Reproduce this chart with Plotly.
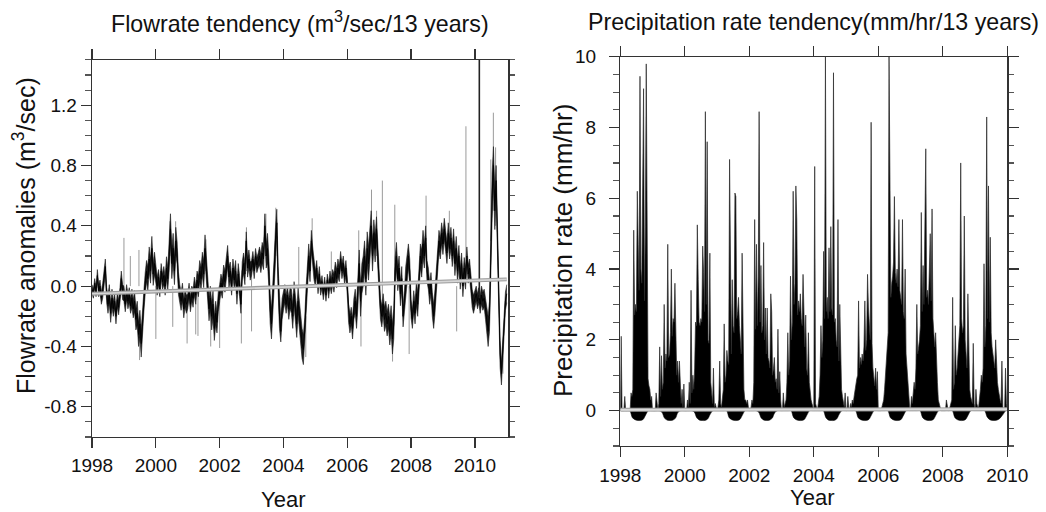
import plotly.graph_objects as go

# ---------------- Left panel: flow-rate anomalies (half-monthly samples) ----------------
flow_years = [1998, 1999, 2000, 2001, 2002, 2003, 2004, 2005, 2006, 2007, 2008, 2009, 2010]
flow_1998 = [-0.02, -0.05, 0.02, -0.04, 0.07, -0.03, 0.0, -0.08, -0.03, 0.05, 0.13, -0.06,
             -0.12, -0.05, -0.18, -0.08, -0.15, -0.1, -0.2, -0.09, -0.14, -0.06, 0.05, -0.04]
flow_1999 = [-0.05, -0.12, -0.04, -0.1, -0.06, -0.13, -0.08, -0.15, -0.1, -0.22, -0.18, -0.32,
             -0.25, -0.38, -0.2, -0.1, 0.02, 0.1, 0.05, 0.18, 0.1, 0.25, 0.08, 0.15]
flow_2000 = [0.08, 0.0, 0.06, -0.02, 0.1, 0.03, 0.07, 0.0, 0.12, 0.05, 0.2, 0.38,
             0.15, 0.25, 0.1, 0.3, 0.22, 0.02, -0.05, -0.1, -0.04, -0.15, -0.08, -0.12]
flow_2001 = [-0.1, -0.03, -0.12, -0.05, -0.08, 0.0, -0.06, 0.04, 0.0, 0.1, 0.05, 0.15,
             0.08, 0.25, 0.12, -0.05, -0.15, -0.08, -0.2, -0.12, -0.28, -0.18, -0.24, -0.1]
flow_2002 = [-0.05, 0.02, -0.02, 0.08, 0.03, 0.12, 0.2, 0.06, 0.1, 0.0, 0.12, 0.04,
             0.1, -0.05, 0.08, 0.0, -0.12, 0.1, 0.15, 0.08, 0.3, 0.12, 0.18, 0.1]
flow_2003 = [0.12, 0.18, 0.1, 0.2, 0.14, 0.17, 0.2, 0.15, 0.22, 0.18, 0.4, 0.2,
             0.25, 0.1, -0.15, -0.25, -0.1, 0.1, 0.3, 0.42, 0.05, -0.2, -0.3, -0.15]
flow_2004 = [-0.1, -0.05, -0.12, -0.06, -0.15, -0.08, -0.1, -0.2, -0.05, -0.15, -0.25, -0.1,
             -0.2, -0.3, -0.38, -0.42, -0.3, -0.1, 0.05, 0.2, 0.1, 0.3, 0.2, 0.1]
flow_2005 = [0.05, 0.12, 0.0, 0.08, -0.02, 0.03, -0.05, 0.02, -0.06, 0.04, -0.03, 0.05,
             0.0, 0.06, 0.02, 0.1, 0.05, 0.12, 0.08, 0.18, 0.1, 0.15, 0.06, 0.12]
flow_2006 = [0.0, -0.18, -0.25, -0.2, -0.28, -0.15, -0.1, -0.2, -0.05, 0.15, -0.1, 0.05,
             0.1, 0.2, 0.05, 0.25, 0.15, 0.3, 0.4, 0.2, 0.35, 0.25, 0.38, 0.2]
flow_2007 = [0.0, -0.15, -0.2, -0.12, -0.22, -0.18, -0.25, -0.2, -0.3, -0.22, -0.35, -0.25,
             0.1, 0.2, 0.05, 0.12, -0.05, 0.05, -0.2, -0.1, 0.05, 0.15, 0.2, 0.1]
flow_2008 = [-0.15, -0.22, -0.1, -0.18, -0.05, -0.12, 0.1, 0.2, 0.15, 0.28, 0.2, 0.32,
             0.1, 0.05, -0.05, 0.02, -0.12, -0.2, -0.1, 0.05, 0.2, 0.3, 0.25, 0.35]
flow_2009 = [0.28, 0.38, 0.3, 0.22, 0.35, 0.25, 0.32, 0.2, 0.3, 0.15, 0.25, 0.1,
             0.2, 0.05, 0.15, 0.0, 0.12, 0.05, 0.2, 0.08, 0.12, 0.0, -0.08, -0.12]
flow_2010 = [-0.08, -0.05, -0.1, -0.06, -0.12, -0.06, -0.1, -0.08, -0.15, -0.22, -0.3, -0.2,
             0.3, 0.6, 0.8, 0.5, 0.7, 0.3, -0.2, -0.45, -0.58, -0.4, -0.25, -0.1]
flow_last_year = 2011
flow_last_value = -0.05

# thickness of the dense daily band around the series, one value per month
flow_spread = [
    [0.06, 0.06, 0.08, 0.08, 0.1, 0.1, 0.12, 0.12, 0.1, 0.1, 0.1, 0.1],
    [0.1, 0.1, 0.1, 0.12, 0.14, 0.16, 0.18, 0.14, 0.14, 0.16, 0.16, 0.15],
    [0.12, 0.1, 0.1, 0.12, 0.15, 0.2, 0.2, 0.18, 0.15, 0.12, 0.12, 0.12],
    [0.1, 0.1, 0.12, 0.12, 0.14, 0.15, 0.18, 0.16, 0.16, 0.18, 0.16, 0.14],
    [0.12, 0.12, 0.14, 0.14, 0.12, 0.12, 0.14, 0.14, 0.12, 0.14, 0.12, 0.12],
    [0.1, 0.1, 0.1, 0.12, 0.14, 0.16, 0.2, 0.2, 0.18, 0.18, 0.16, 0.14],
    [0.12, 0.12, 0.14, 0.16, 0.16, 0.18, 0.2, 0.2, 0.18, 0.16, 0.14, 0.12],
    [0.1, 0.1, 0.08, 0.08, 0.08, 0.1, 0.1, 0.12, 0.12, 0.1, 0.1, 0.1],
    [0.12, 0.12, 0.14, 0.16, 0.18, 0.2, 0.2, 0.22, 0.22, 0.2, 0.18, 0.16],
    [0.14, 0.14, 0.16, 0.16, 0.18, 0.2, 0.18, 0.16, 0.16, 0.14, 0.16, 0.16],
    [0.12, 0.14, 0.16, 0.16, 0.18, 0.16, 0.14, 0.14, 0.16, 0.16, 0.14, 0.14],
    [0.14, 0.14, 0.14, 0.14, 0.16, 0.16, 0.14, 0.14, 0.14, 0.12, 0.12, 0.12],
    [0.1, 0.1, 0.12, 0.12, 0.14, 0.2, 0.3, 0.25, 0.2, 0.18, 0.15, 0.12],
]

# isolated daily extremes (grey spikes): year, from, to
spike_year = [1999.0, 1999.2, 1999.47, 1999.49, 2000.0, 2000.44, 2000.53, 2000.62, 2000.98,
              2001.25, 2001.32, 2001.57, 2001.72, 2002.0, 2002.68, 2002.84, 2003.0, 2003.45,
              2003.76, 2004.48, 2004.7, 2004.9, 2005.5, 2006.36, 2006.43, 2006.76, 2006.92,
              2007.1, 2007.42, 2007.49, 2007.94, 2008.47, 2009.2, 2009.43, 2009.72, 2010.5,
              2010.58, 2010.65, 2010.88]
spike_from = [0.0, 0.0, 0.0, -0.2, 0.0, 0.2, 0.0, 0.2, -0.1,
              0.0, 0.0, 0.1, -0.1, -0.1, 0.0, 0.1, 0.1, 0.2,
              0.2, 0.0, -0.2, 0.2, 0.0, 0.0, -0.1, 0.3, 0.2,
              -0.1, -0.3, 0.0, 0.0, 0.3, 0.3, 0.0, 0.1, 0.3,
              0.5, 0.4, -0.4]
spike_to = [0.32, 0.2, 0.24, -0.49, -0.35, 0.43, -0.27, 0.43, -0.38,
            -0.32, -0.33, 0.31, -0.4, -0.41, -0.38, 0.39, -0.3, 0.48,
            0.52, 0.26, -0.47, 0.45, 0.23, 0.37, -0.4, 0.64, 0.5,
            0.7, -0.5, 0.54, -0.45, 0.6, 0.5, -0.3, 1.06, 0.84,
            1.15, 0.92, -0.58]
# the one extreme that runs off the top of the frame (dark)
big_spike_year = [2010.14]
big_spike_from = [-0.08]
big_spike_to = [1.5]

flow_trend_years = [1998, 2011]
flow_trend = [-0.05, 0.045]

# ---------------- Right panel: precipitation rate (~10-day samples) ----------------
precip_years = [1998, 1999, 2000, 2001, 2002, 2003, 2004, 2005, 2006, 2007, 2008, 2009]
precip_1998 = [0, 2.1, 0, 0, 0, 0.4, 0, 0, 0, 0, 0, 0,
               0.5, 0.4, 0.6, 5.1, 2.7, 3.0, 2.8, 6.2, 4.7, 3.4, 9.45, 4.0,
               3.6, 8.2, 9.1, 3.1, 5.2, 9.8, 3.0, 0.9, 0.7, 0.6, 0.3, 0.4]
precip_1999 = [0, 0, 0, 0, 0.5, 0.1, 0, 0.2, 1.8, 0.4, 1.55, 0.6,
               0.8, 3.0, 1.2, 1.6, 1.4, 4.7, 1.5, 1.6, 2.2, 4.0, 2.1, 2.6,
               2.5, 3.6, 1.5, 1.0, 1.4, 0.8, 1.4, 0.5, 0.2, 0.6, 0.1, 0.75]
precip_2000 = [0, 0, 0, 0.3, 0.1, 0.8, 0.2, 3.4, 0.5, 1.0, 0.6, 1.2,
               2.5, 2.4, 5.25, 3.7, 2.5, 2.4, 2.6, 2.5, 4.65, 3.9, 2.8, 8.45,
               3.0, 7.6, 2.0, 1.9, 4.45, 0.8, 0.3, 0.2, 1.2, 0.1, 0.2, 0.1]
precip_2001 = [0, 0.1, 0.3, 1.4, 0.2, 0.1, 0.4, 0.6, 2.45, 0.8, 1.0, 1.7,
               1.4, 1.3, 7.1, 3.1, 1.6, 3.7, 2.4, 2.2, 6.15, 6.05, 2.6, 2.8,
               3.2, 2.4, 2.0, 1.6, 4.45, 1.3, 0.6, 0.3, 0.3, 0.2, 0.3, 0.1]
precip_2002 = [0, 0, 0.1, 0.3, 0.2, 0.8, 5.4, 2.3, 4.7, 2.4, 3.8, 8.45,
               2.5, 4.1, 2.2, 2.4, 4.75, 2.0, 2.9, 1.6, 2.9, 1.5, 1.4, 1.2,
               3.3, 2.8, 1.0, 1.2, 1.5, 0.8, 0.9, 0.6, 2.3, 0.5, 1.1, 0.3]
precip_2003 = [0, 0, 0.5, 0.1, 0.2, 0.3, 0.8, 2.2, 1.0, 1.4, 3.8, 2.0,
               2.5, 6.2, 3.0, 3.6, 6.35, 5.4, 2.7, 3.1, 2.8, 3.3, 2.6, 2.4,
               3.85, 2.2, 1.8, 2.7, 1.2, 1.0, 2.2, 0.8, 0.5, 0.3, 0.2, 0.1]
precip_2004 = [0, 6.9, 0.2, 0.1, 0, 0.2, 0.4, 1.0, 2.4, 1.5, 2.0, 4.5,
               2.6, 10.0, 2.8, 3.2, 2.6, 4.6, 2.8, 5.2, 2.9, 2.7, 9.55, 2.5,
               2.6, 2.0, 1.8, 5.4, 1.4, 3.0, 1.0, 0.6, 0.4, 0.2, 0.1, 0.5]
precip_2005 = [0, 0, 0.4, 0.1, 0, 0.2, 0.1, 0.3, 0.2, 0.4, 0.6, 0.8,
               0.9, 1.0, 3.1, 1.2, 1.5, 1.3, 1.6, 1.4, 1.8, 3.1, 1.7, 2.0,
               3.85, 2.9, 2.2, 2.0, 8.15, 1.9, 1.2, 0.8, 0.7, 1.2, 0.6, 1.1]
precip_2006 = [0, 0, 0, 0, 0.1, 0.2, 0.3, 0.6, 1.0, 1.5, 2.0, 2.2,
               10.0, 7.6, 3.2, 3.6, 3.8, 4.2, 6.05, 3.9, 3.6, 4.0, 3.5, 5.4,
               3.4, 3.2, 3.0, 5.4, 2.8, 2.6, 4.0, 1.6, 1.2, 0.6, 0.3, 0.1]
precip_2007 = [0, 0.4, 0.2, 0.5, 0.8, 0.6, 1.2, 3.0, 1.6, 1.8, 2.0, 2.4,
               5.6, 2.8, 4.1, 3.0, 6.6, 7.4, 3.2, 3.4, 3.0, 4.0, 5.0, 3.1,
               5.7, 2.6, 2.2, 1.8, 2.2, 1.2, 0.8, 0.3, 0.2, 0.1, 0, 0]
precip_2008 = [0, 0, 0, 0, 0.3, 0.1, 0, 0, 0.1, 0.2, 0.3, 3.2,
               0.6, 0.8, 2.4, 1.0, 1.2, 1.6, 2.0, 2.4, 7.0, 2.6, 2.2, 2.4,
               5.5, 2.0, 1.6, 1.2, 3.3, 1.0, 0.6, 0.4, 0.3, 0.2, 1.9, 0.2]
precip_2009 = [0, 0.6, 0.2, 0.1, 0.1, 0.3, 0.6, 1.0, 0.8, 1.2, 4.15, 1.8,
               2.4, 8.3, 2.6, 6.35, 2.5, 4.9, 2.2, 1.8, 1.6, 1.4, 1.2, 2.0,
               1.0, 0.8, 0.6, 0.4, 0.3, 0.2, 1.4, 0.1, 0, 0, 1.2, 0.2]
precip_last_year = 2010
precip_last_value = 0.0

# monthly negative (below-zero) seasonal component, one row per year
precip_dip = [
    [0, 0, 0, 0, -0.2, -0.26, -0.28, -0.28, -0.25, -0.12, 0, 0],
    [0, 0, 0, -0.05, -0.22, -0.27, -0.28, -0.27, -0.22, -0.05, 0, 0],
    [0, 0, 0, -0.04, -0.21, -0.27, -0.28, -0.28, -0.24, -0.1, 0, 0],
    [0, 0, 0, 0, -0.2, -0.26, -0.28, -0.28, -0.25, -0.12, 0, 0],
    [0, 0, 0, -0.05, -0.22, -0.27, -0.28, -0.27, -0.22, -0.06, 0, 0],
    [0, 0, 0, 0, -0.2, -0.26, -0.28, -0.28, -0.25, -0.12, 0, 0],
    [0, 0, 0, 0, -0.2, -0.27, -0.28, -0.28, -0.24, -0.1, 0, 0],
    [0, 0, 0, 0, -0.2, -0.26, -0.28, -0.28, -0.25, -0.12, 0, 0],
    [0, 0, 0, 0, -0.2, -0.26, -0.28, -0.28, -0.25, -0.12, 0, 0],
    [0, 0, 0, 0, -0.2, -0.26, -0.28, -0.28, -0.25, -0.12, 0, 0],
    [0, 0, 0, 0, -0.2, -0.26, -0.28, -0.28, -0.25, -0.12, 0, 0],
    [0, 0, 0, 0, -0.18, -0.26, -0.28, -0.28, -0.26, -0.2, -0.1, 0],
]

precip_trend_years = [1998, 2010]
precip_trend = [0.02, 0.04]

# tick labels
flow_ytick_vals = [-0.8, -0.4, 0.0, 0.4, 0.8, 1.2]
flow_ytick_text = ["-0.8", "-0.4", "0.0", "0.4", "0.8", "1.2"]
year_ticks = [1998, 2000, 2002, 2004, 2006, 2008, 2010]
precip_ytick_vals = [0, 2, 4, 6, 8, 10]

# ---------------- assemble series ----------------
flow_by_year = [flow_1998, flow_1999, flow_2000, flow_2001, flow_2002, flow_2003, flow_2004,
                flow_2005, flow_2006, flow_2007, flow_2008, flow_2009, flow_2010]
flow_x, flow_y, flow_lo, flow_hi = [], [], [], []
for yi, (yr, vals) in enumerate(zip(flow_years, flow_by_year)):
    n = len(vals)
    for j, v in enumerate(vals):
        s = flow_spread[yi][j * 12 // n]
        flow_x.append(yr + j / n)
        flow_y.append(v)
        flow_lo.append(v - s / 2)
        flow_hi.append(v + s / 2)
flow_x.append(flow_last_year)
flow_y.append(flow_last_value)
flow_lo.append(flow_last_value - flow_spread[-1][-1] / 2)
flow_hi.append(flow_last_value + flow_spread[-1][-1] / 2)

def segments(xs, a, b):
    sx, sy = [], []
    for x, p, q in zip(xs, a, b):
        sx += [x, x, None]
        sy += [p, q, None]
    return sx, sy

sp_x, sp_y = segments(spike_year, spike_from, spike_to)
bs_x, bs_y = segments(big_spike_year, big_spike_from, big_spike_to)

precip_by_year = [precip_1998, precip_1999, precip_2000, precip_2001, precip_2002, precip_2003,
                  precip_2004, precip_2005, precip_2006, precip_2007, precip_2008, precip_2009]
pr_x, pr_y = [], []
for yr, vals in zip(precip_years, precip_by_year):
    n = len(vals)
    for j, v in enumerate(vals):
        pr_x.append(yr + j / n)
        pr_y.append(v)
pr_x.append(precip_last_year)
pr_y.append(precip_last_value)

dip_x, dip_y = [1998.0], [0.0]
for yr, row in zip(precip_years, precip_dip):
    for m, v in enumerate(row):
        dip_x.append(yr + (m + 0.5) / 12)
        dip_y.append(v)
dip_x.append(2010.0)
dip_y.append(0.0)

# ---------------- figure ----------------
fig = go.Figure()

fig.add_trace(go.Scatter(x=sp_x, y=sp_y, mode="lines", xaxis="x", yaxis="y",
                         line=dict(color="#9a9a9a", width=1), hoverinfo="skip"))
fig.add_trace(go.Scatter(x=flow_x, y=flow_lo, mode="lines", xaxis="x", yaxis="y",
                         line=dict(color="#1a1a1a", width=0.6)))
fig.add_trace(go.Scatter(x=flow_x, y=flow_hi, mode="lines", xaxis="x", yaxis="y",
                         fill="tonexty", fillcolor="#1a1a1a",
                         line=dict(color="#1a1a1a", width=0.6)))
fig.add_trace(go.Scatter(x=flow_x, y=flow_y, mode="lines", xaxis="x", yaxis="y",
                         line=dict(color="#000000", width=0.9)))
fig.add_trace(go.Scatter(x=bs_x, y=bs_y, mode="lines", xaxis="x", yaxis="y",
                         line=dict(color="#222222", width=1.6), hoverinfo="skip"))
fig.add_trace(go.Scatter(x=flow_trend_years, y=flow_trend, mode="lines", xaxis="x", yaxis="y",
                         line=dict(color="#9c9c9c", width=4)))
fig.add_trace(go.Scatter(x=flow_trend_years, y=flow_trend, mode="lines", xaxis="x", yaxis="y",
                         line=dict(color="#d6d6d6", width=1.6)))

fig.add_trace(go.Scatter(x=dip_x, y=dip_y, mode="lines", xaxis="x2", yaxis="y2",
                         fill="tozeroy", fillcolor="#000000",
                         line=dict(color="#000000", width=0.5, shape="spline")))
fig.add_trace(go.Scatter(x=pr_x, y=pr_y, mode="lines", xaxis="x2", yaxis="y2",
                         fill="tozeroy", fillcolor="#000000",
                         line=dict(color="#2a2a2a", width=0.7)))
fig.add_trace(go.Scatter(x=precip_trend_years, y=precip_trend, mode="lines", xaxis="x2", yaxis="y2",
                         line=dict(color="#a8a8a8", width=4)))
fig.add_trace(go.Scatter(x=precip_trend_years, y=precip_trend, mode="lines", xaxis="x2", yaxis="y2",
                         line=dict(color="#dcdcdc", width=1.6)))

FONT = "Liberation Sans, Arial, Helvetica, sans-serif"
axis_common = dict(showline=True, mirror="ticks", linecolor="#333333", linewidth=1.3,
                   ticks="outside", tickcolor="#333333", tickwidth=1.3, ticklen=10,
                   showgrid=False, zeroline=False, automargin=False,
                   tickfont=dict(family=FONT, size=19, color="#111111"))

fig.update_layout(
    width=1046, height=512,
    margin=dict(l=0, r=0, t=0, b=0, autoexpand=False),
    paper_bgcolor="white", plot_bgcolor="white",
    showlegend=False, hovermode=False,
    font=dict(family=FONT, color="#111111"),
    xaxis=dict(domain=[0.088, 0.486], range=[1998, 2011.05], anchor="y",
               tickmode="array", tickvals=year_ticks, ticklabelstandoff=1, **axis_common),
    yaxis=dict(domain=[0.1465, 0.883], range=[-1.0, 1.5], anchor="x",
               tickmode="array", tickvals=flow_ytick_vals, ticktext=flow_ytick_text,
               ticklabelstandoff=0,
               minor=dict(tickmode="linear", dtick=0.1, tick0=0, ticks="outside", ticklen=5.5,
                          tickwidth=1.1, tickcolor="#555555", showgrid=False),
               **axis_common),
    xaxis2=dict(domain=[0.593, 0.963], range=[1998, 2010], anchor="y2",
                tickmode="array", tickvals=year_ticks, ticklabelstandoff=2, **axis_common),
    yaxis2=dict(domain=[0.129, 0.889], range=[-1.0, 10.0], anchor="x2",
                tickmode="array", tickvals=precip_ytick_vals, ticklabelstandoff=9,
                minor=dict(tickmode="linear", dtick=0.5, tick0=0, ticks="outside", ticklen=5.5,
                           tickwidth=1.1, tickcolor="#555555", showgrid=False),
                **axis_common),
)

W, H = 1046.0, 512.0
def ann(text, px, py, size, angle=0):
    fig.add_annotation(text=text, x=px / W, y=1 - py / H, xref="paper", yref="paper",
                       xanchor="center", yanchor="middle", showarrow=False, textangle=angle,
                       font=dict(family=FONT, size=size, color="#111111"))

ann("Flowrate tendency (m<sup>3</sup>/sec/13 years)", 300, 22, 23.2)
ann("Precipitation rate tendency(mm/hr/13 years)", 813, 22, 23.2)
ann("Flowrate anomalies (m<sup>3</sup>/sec)", 24, 236, 25, -90)
ann("Precipitation rate (mm/hr)", 563, 251, 26, -90)
ann("Year", 283, 499, 22)
ann("Year", 812, 497, 22)

fig.write_html("out.html",
               config={"displayModeBar": False, "staticPlot": True},
               post_script="document.body.style.margin='0';document.body.style.overflow='hidden';")
